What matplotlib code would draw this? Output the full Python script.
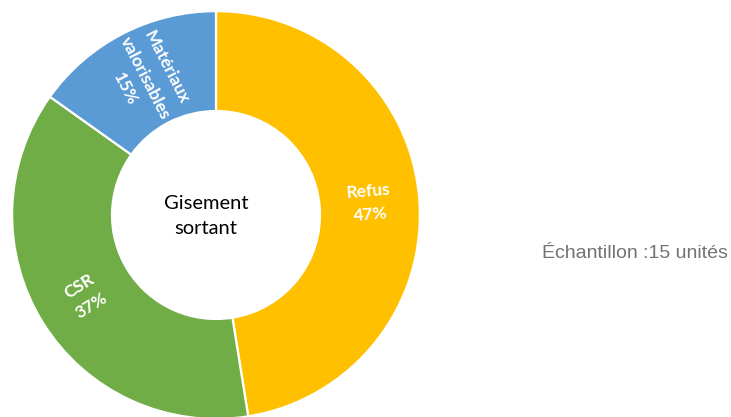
import numpy as np
import matplotlib.pyplot as plt

# Gisement sortant breakdown
categories = ["Refus", "CSR", "Matériaux\nvalorisables"]
shares = [47, 37, 15]
colors = ["#FFC000", "#70AD47", "#5B9BD5"]
sample_note = "Échantillon :15 unités"

W, H = 731, 417
fig = plt.figure(figsize=(W / 100, H / 100), dpi=100)

# donut centred at (216, 215) px, outer radius ~204 px
cx, cy, half = 216, 215, 210
ax = fig.add_axes([(cx - half) / W, (H - cy - half) / H, 2 * half / W, 2 * half / H])

ring = 0.49
wedges, _ = ax.pie(shares, colors=colors, startangle=90, counterclock=False,
                   wedgeprops=dict(width=ring, edgecolor="white", linewidth=1.6))
ax.set_xlim(-1.03, 1.03)
ax.set_ylim(-1.03, 1.03)
ax.set_aspect("equal")
ax.axis("off")

label_font = ["Lato", "DejaVu Sans"]
r_lab = 1 - ring / 2
for w, name, val in zip(wedges, categories, shares):
    mid = (w.theta1 + w.theta2) / 2
    mid = (mid + 180) % 360 - 180
    rot = mid if -90 < mid <= 90 else mid + 180
    rot = (rot + 180) % 360 - 180
    x = r_lab * np.cos(np.radians(mid))
    y = r_lab * np.sin(np.radians(mid))
    ax.text(x, y, f"{name}\n{val}%", ha="center", va="center", rotation=rot,
            rotation_mode="anchor", color="white", fontsize=12.5,
            fontweight="bold", family=label_font, linespacing=1.55)

ax.text(-0.05, -0.005, "Gisement\nsortant", ha="center", va="center",
        fontsize=14.5, color="black", family=label_font, linespacing=1.55)

fig.text(728 / W, (H - 254) / H, sample_note, ha="right", va="center",
         fontsize=14, color="#737373", family="Liberation Sans")

fig.savefig("out.png", dpi=100, facecolor="white")
